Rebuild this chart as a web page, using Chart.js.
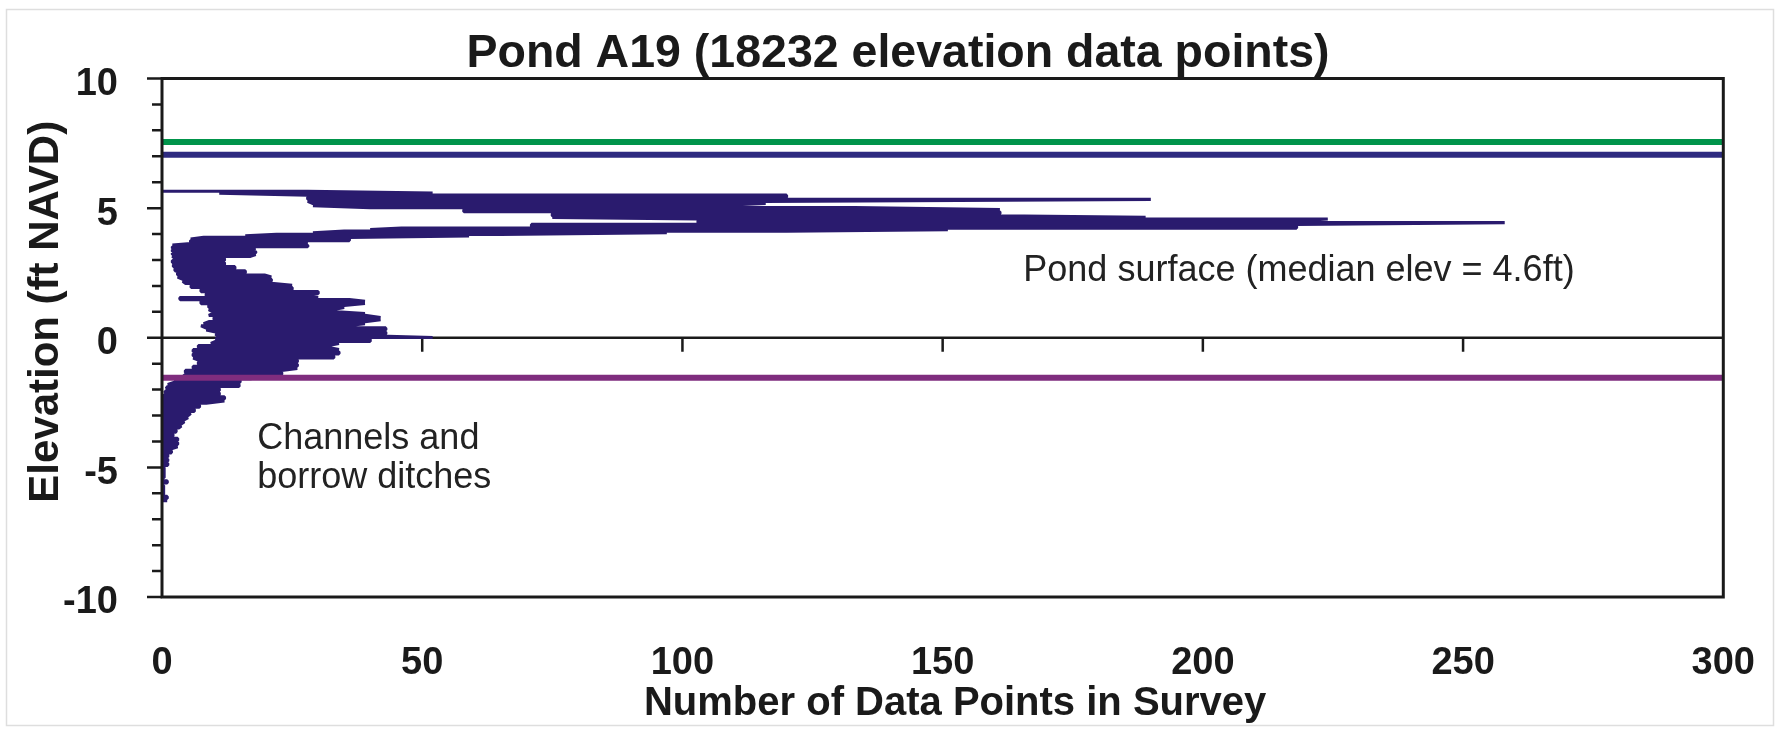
<!DOCTYPE html>
<html>
<head>
<meta charset="utf-8">
<title>Pond A19 elevation data points</title>
<script src="https://cdn.jsdelivr.net/npm/chart.js@4.4.0/dist/chart.umd.min.js"></script>
<style>
  html, body { margin: 0; padding: 0; background: #fff; }
  #wrap { width: 1791px; height: 729px; }
</style>
</head>
<body>
<div id="wrap"><canvas id="pondChart" width="1791" height="729"></canvas></div>
<script>
// Elevation rows (ft NAVD), with the lowest and highest
// count the survey trace reaches at that elevation
const elevationRows = [
    5.65, 5.58, 5.50, 5.42, 5.34, 5.26, 5.18, 5.10, 5.02, 4.94,
    4.86, 4.78, 4.70, 4.64, 4.58, 4.51, 4.44, 4.37, 4.30, 4.23,
    4.17, 4.11, 4.05, 3.99, 3.93, 3.87, 3.81, 3.75, 3.69, 3.63,
    3.57, 3.51, 3.45, 3.39, 3.33, 3.27, 3.21, 3.14, 3.06, 2.98,
    2.90, 2.82, 2.74, 2.66, 2.58, 2.50, 2.42, 2.34, 2.26, 2.18,
    2.10, 2.02, 1.94, 1.86, 1.78, 1.70, 1.62, 1.55, 1.47, 1.40,
    1.32, 1.25, 1.17, 1.09, 1.01, 0.93, 0.86, 0.78, 0.70, 0.62,
    0.54, 0.46, 0.38, 0.30, 0.22, 0.14, 0.07, 0.01, -0.06, -0.14,
    -0.22, -0.30, -0.38, -0.46, -0.54, -0.62, -0.70, -0.78, -0.86, -0.94,
    -1.02, -1.10, -1.18, -1.26, -1.34, -1.42, -1.50, -1.58, -1.65, -1.72,
    -1.80, -1.88, -1.96, -2.04, -2.12, -2.20, -2.28, -2.36, -2.44, -2.52,
    -2.60, -2.68, -2.76, -2.84, -2.92, -3.00, -3.08, -3.16, -3.24, -3.32,
    -3.40, -3.48, -3.56, -3.64, -3.72, -3.80, -3.88, -3.96, -4.04, -4.12,
    -4.20, -4.28, -4.36, -4.44, -4.52, -4.60, -4.68, -4.76, -4.84, -4.92,
    -5.00, -5.40, -5.52, -5.60, -5.70, -6.05, -6.12, -6.20, -6.28
];
const countLow = [
    0, 11, 28, 28, 28, 28, 29, 29, 40, 58,
    58, 75, 75, 75, 103, 103, 103, 71, 71, 46,
    40, 35, 29, 22, 16, 8, 5.5, 5.5, 5.5, 5.5,
    2, 2, 2, 2, 2, 2, 2, 2, 2.5, 2,
    2, 2.2, 2.2, 2.5, 2.5, 3, 3, 3, 4, 4,
    4.5, 5.6, 5.6, 7.5, 7.5, 8.5, 8.5, 3.4, 3.5, 7.5,
    7.5, 9, 9, 9, 9.7, 9.7, 9, 10, 10, 9,
    8, 7.5, 8.5, 8.5, 10.3, 10.3, 10.7, 10.7, 10.3, 10.3,
    9.4, 7, 7, 6, 6, 6, 6, 6, 7, 7,
    7, 6, 6, 4.5, 4.5, 4.5, 4, 3, 2.4, 2.4,
    1.1, 1.1, 0.8, 0.8, 0.5, 0.5, 0.2, 0.2, 0.2, 0.2,
    0.2, 0.2, 0.2, 0.2, 0.2, 0.2, 0.2, 0.2, 0.2, 0.2,
    0.2, 0.2, 0.2, 0.2, 0.2, 0.2, 0.2, 0.2, 0.2, 0.2,
    0.2, 0.2, 0.2, 0.2, 0.2, 0.2, 0.2, 0.2, 0.2, 0.2,
    0, 0, 0, 0, 0, 0, 0, 0, 0
];
const countHigh = [
    28, 52, 120, 120, 190, 116, 116, 106, 133, 161,
    161, 161, 161, 189, 224, 218, 258, 218, 218, 218,
    151, 120, 97, 65, 59, 36, 36, 36, 26, 28,
    28, 28, 18, 16, 18, 18, 18, 17, 12, 12,
    12, 12, 14, 14, 16, 16, 19.7, 21, 21, 21,
    21, 25, 25, 25, 30, 30, 28, 30, 36, 39,
    39, 35, 35, 33, 33, 39, 39, 42, 42, 39,
    39, 35, 43, 43, 43, 43, 40, 52, 40, 40,
    34, 32, 32, 34, 34, 34, 33, 33, 26, 26,
    26, 26, 26, 23, 23, 23, 20, 17, 15, 15,
    14.8, 14.8, 11, 11, 11, 11, 12, 12, 12, 8.5,
    7.2, 7.2, 6.2, 6.2, 5.5, 5, 5, 4.3, 4.3, 3.7,
    3.7, 3.2, 2.7, 2.7, 2.1, 2.1, 3, 3, 3, 3,
    3, 1.8, 1.8, 1.8, 1.1, 1.1, 1.1, 1.1, 1.1, 1.1,
    0.4, 0.4, 1, 1, 0.3, 0.3, 1, 1, 1
];

const xTicks = [0, 50, 100, 150, 200, 250, 300];
const yTicks = [-10, -5, 0, 5, 10];

// horizontal reference levels (ft NAVD)
const refNames = ['upper green level', 'upper blue level', 'lower purple level'];
const refElevations = [7.55, 7.06, -1.54];
const refColors = ['#00944a', '#2e2b80', '#7f2d7e'];

const xTitle = 'Number of Data Points in Survey';
const yTitle = 'Elevation (ft NAVD)';

const inkColor = '#1a1a1a';
const fontFamily = '"Liberation Sans", Arial, Helvetica, sans-serif';

// the survey trace runs back and forth across each row
function buildTrace() {
    const pts = [];
    elevationRows.forEach((e, i) => {
        if (i % 2 === 0) {
            pts.push({ x: countLow[i], y: e }, { x: countHigh[i], y: e });
        } else {
            pts.push({ x: countHigh[i], y: e }, { x: countLow[i], y: e });
        }
    });
    return pts;
}

const framePlugin = {
    id: 'frame',
    beforeDraw(chart) {
        const ctx = chart.ctx;
        ctx.save();
        ctx.fillStyle = '#fff';
        ctx.fillRect(0, 0, chart.width, chart.height);
        ctx.strokeStyle = '#dedede';
        ctx.lineWidth = 1.5;
        ctx.strokeRect(6.5, 9.5, 1767, 716);
        ctx.restore();
    },
    beforeDatasetsDraw(chart) {
        const { ctx, chartArea: a, scales: { x, y } } = chart;
        const y0 = y.getPixelForValue(0);
        ctx.save();
        ctx.strokeStyle = inkColor;
        ctx.lineWidth = 2.5;
        ctx.beginPath();
        ctx.moveTo(a.left, y0);
        ctx.lineTo(a.right, y0);
        xTicks.forEach(v => {
            if (v > 0 && v < 300) {
                const px = x.getPixelForValue(v);
                ctx.moveTo(px, y0);
                ctx.lineTo(px, y0 + 14);
            }
        });
        ctx.stroke();
        ctx.restore();
    },
    afterDatasetsDraw(chart) {
        const { ctx, chartArea: a, scales: { x, y } } = chart;
        ctx.save();
        ctx.strokeStyle = inkColor;
        ctx.lineWidth = 3;
        ctx.strokeRect(a.left, a.top, a.right - a.left, a.bottom - a.top);

        // y tick marks, every foot, longer on the labelled ones
        ctx.lineWidth = 2.5;
        ctx.beginPath();
        for (let v = -10; v <= 10; v++) {
            const py = y.getPixelForValue(v);
            const len = v % 5 === 0 ? 15 : 10;
            ctx.moveTo(a.left - len, py);
            ctx.lineTo(a.left, py);
        }
        ctx.stroke();

        // axis titles (the original sits a little off the scale centres)
        ctx.fillStyle = inkColor;
        ctx.textAlign = 'center';
        ctx.textBaseline = 'middle';
        ctx.font = 'bold 40px ' + fontFamily;
        ctx.fillText(xTitle, x.getPixelForValue(152.4), 704);
        ctx.save();
        ctx.translate(46, y.getPixelForValue(1.0));
        ctx.rotate(-Math.PI / 2);
        ctx.font = 'bold 42px ' + fontFamily;
        ctx.fillText(yTitle, 0, 0);
        ctx.restore();

        // notes inside the plot
        ctx.fillStyle = '#222';
        ctx.textAlign = 'left';
        ctx.textBaseline = 'alphabetic';
        ctx.font = '36px ' + fontFamily;
        ctx.fillText('Pond surface (median elev = 4.6ft)', x.getPixelForValue(165.5), y.getPixelForValue(2.18));
        ctx.fillText('Channels and', x.getPixelForValue(18.3), y.getPixelForValue(-4.30));
        ctx.fillText('borrow ditches', x.getPixelForValue(18.3), y.getPixelForValue(-5.80));
        ctx.restore();
    }
};

const refDatasets = refElevations.map((e, i) => ({
    label: refNames[i],
    data: [{ x: xTicks[0], y: e }, { x: xTicks[xTicks.length - 1], y: e }],
    showLine: true,
    borderColor: refColors[i],
    borderWidth: 6,
    pointRadius: 0,
    order: 0
}));

Chart.defaults.font.family = fontFamily;

new Chart(document.getElementById('pondChart'), {
    type: 'scatter',
    data: {
        datasets: [
            ...refDatasets,
            {
                label: 'Number of data points',
                data: buildTrace(),
                showLine: true,
                borderColor: '#2a1b6e',
                borderWidth: 3.2,
                borderJoinStyle: 'bevel',
                pointRadius: 0,
                order: 1
            }
        ]
    },
    options: {
        responsive: false,
        animation: false,
        devicePixelRatio: 1,
        // left/right padding keeps the page title centred where the original has it
        layout: { padding: { left: 59, right: 54, top: 0, bottom: 0 } },
        plugins: {
            legend: { display: false },
            tooltip: { enabled: false },
            title: {
                display: true,
                text: 'Pond A19 (18232 elevation data points)',
                color: inkColor,
                font: { size: 46.5, weight: 'bold', lineHeight: 1 },
                padding: { top: 31, bottom: 1 }
            }
        },
        scales: {
            x: {
                type: 'linear',
                min: 0,
                max: 300,
                afterFit: s => { s.height = 132; },
                afterBuildTicks: s => { s.ticks = xTicks.map(v => ({ value: v })); },
                grid: { display: false },
                border: { display: false },
                ticks: {
                    padding: 36,
                    maxRotation: 0,
                    autoSkip: false,
                    color: inkColor,
                    font: { size: 38, weight: 'bold' }
                },
                title: { display: false, text: xTitle }
            },
            y: {
                type: 'linear',
                min: -10,
                max: 10,
                afterFit: s => { s.width = 103; },
                afterBuildTicks: s => { s.ticks = yTicks.map(v => ({ value: v })); },
                grid: { display: false },
                border: { display: false },
                ticks: {
                    padding: 36,
                    labelOffset: 6,
                    autoSkip: false,
                    color: inkColor,
                    font: { size: 38, weight: 'bold' }
                },
                title: { display: false, text: yTitle }
            }
        }
    },
    plugins: [framePlugin]
});
</script>
</body>
</html>
